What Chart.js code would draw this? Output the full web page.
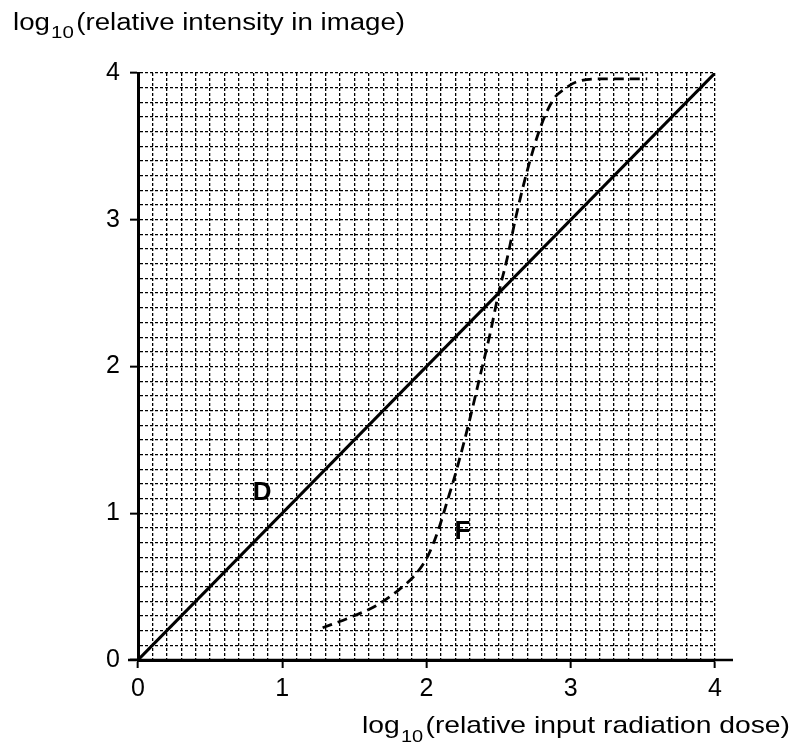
<!DOCTYPE html>
<html>
<head>
<meta charset="utf-8">
<script src="https://cdn.jsdelivr.net/npm/chart.js@4.4.1/dist/chart.umd.min.js"></script>
<style>
  body { margin: 0; background: #fff; }
  #wrap { width: 792px; height: 745px; }
</style>
</head>
<body>
<div id="wrap"><canvas id="grafico" width="792" height="745"></canvas></div>
<script>
// dados
const linhaDX = [0, 4];
const linhaDY = [0, 4];

const curvaFX = [1.28, 1.47, 1.65, 1.81, 1.93, 2.01, 2.08, 2.14, 2.21, 2.30, 2.37, 2.44, 2.50, 2.56, 2.62, 2.70, 2.79, 2.88, 2.97, 3.04, 3.20, 3.40, 3.53];
const curvaFY = [0.22, 0.29, 0.37, 0.48, 0.59, 0.71, 0.88, 1.07, 1.30, 1.64, 1.93, 2.22, 2.50, 2.74, 3.02, 3.34, 3.63, 3.82, 3.90, 3.94, 3.96, 3.96, 3.96];

const rotulos = ['D', 'F'];
const rotuloX = [0.86, 2.25];
const rotuloY = [1.14, 0.87];

const eixoMin = 0;
const eixoMax = 4;
const passoGrade = 0.1;

const FONTE = '"Liberation Sans", Arial, sans-serif';

function ehInteiro(v) {
    return Math.abs(v - Math.round(v)) < 1e-6;
}

function pontos(xs, ys) {
    return xs.map((x, i) => ({x: x, y: ys[i]}));
}

// desenha "log10(...)" com o 10 em subscrito, esticado até a largura pedida
function textoLog(ctx, resto, x, y, tam, largura) {
    const sub = Math.round(tam * 0.72);
    ctx.font = `${tam}px ${FONTE}`;
    const w1 = ctx.measureText('log').width;
    const w3 = ctx.measureText(resto).width;
    ctx.font = `${sub}px ${FONTE}`;
    const w2 = ctx.measureText('10').width;
    const total = w1 + w2 + w3 + 3;
    const k = largura / total;

    ctx.save();
    ctx.translate(x, y);
    ctx.scale(k, 1);
    ctx.font = `${tam}px ${FONTE}`;
    ctx.fillText('log', 0, 0);
    ctx.font = `${sub}px ${FONTE}`;
    ctx.fillText('10', w1 + 1, tam * 0.36);
    ctx.font = `${tam}px ${FONTE}`;
    ctx.fillText(resto, w1 + w2 + 3, 0);
    ctx.restore();
}

const extras = {
    id: 'extras',
    afterDraw(chart) {
        const ctx = chart.ctx;
        const sx = chart.scales.x;
        const sy = chart.scales.y;
        const area = chart.chartArea;
        ctx.save();

        // prolongamento do eixo x
        ctx.strokeStyle = '#000';
        ctx.lineWidth = 2.5;
        ctx.beginPath();
        ctx.moveTo(area.left - 10, area.bottom);
        ctx.lineTo(area.right + 18, area.bottom);
        ctx.stroke();

        // títulos dos eixos
        ctx.fillStyle = '#000';
        ctx.textAlign = 'left';
        ctx.textBaseline = 'alphabetic';
        textoLog(ctx, '(relative intensity in image)', 13, 30, 23, 392);
        textoLog(ctx, '(relative input radiation dose)', 362, 733, 24, 428);

        // rótulos das curvas
        ctx.font = `bold 26px ${FONTE}`;
        ctx.textAlign = 'center';
        ctx.textBaseline = 'middle';
        rotulos.forEach((r, i) => {
            ctx.fillText(r, sx.getPixelForValue(rotuloX[i]), sy.getPixelForValue(rotuloY[i]));
        });
        ctx.restore();
    }
};

function opcoesEixo(eixo) {
    return {
        type: 'linear',
        min: eixoMin,
        max: eixoMax,
        afterFit: eixo === 'x' ? (s) => { s.height = 45; } : (s) => { s.width = 138; },
        afterBuildTicks: (s) => {
            s.ticks = [];
            for (let i = 0; i <= 40; i++) s.ticks.push({value: +(i * passoGrade).toFixed(1)});
        },
        ticks: {
            autoSkip: false,
            maxRotation: 0,
            color: '#000',
            padding: eixo === 'x' ? 6 : 10,
            font: {family: FONTE, size: 25},
            callback: (v) => ehInteiro(v) ? String(Math.round(v)) : ''
        },
        grid: {
            color: '#000',
            lineWidth: 1.3,
            tickLength: 8,
            tickWidth: 2,
            tickColor: (c) => (c.tick && ehInteiro(c.tick.value)) ? '#000' : 'rgba(0,0,0,0)',
            tickBorderDash: []
        },
        border: {
            display: true,
            color: '#000',
            width: 3,
            dash: [3, 2]
        }
    };
}

document.addEventListener('DOMContentLoaded', () => {
    const ctx = document.getElementById('grafico').getContext('2d');

    new Chart(ctx, {
        type: 'line',
        data: {
            datasets: [
                {
                    label: 'D',
                    data: pontos(linhaDX, linhaDY),
                    borderColor: '#000',
                    borderWidth: 3,
                    pointRadius: 0,
                    tension: 0
                },
                {
                    label: 'F',
                    data: pontos(curvaFX, curvaFY),
                    borderColor: '#000',
                    borderWidth: 2.8,
                    borderDash: [10, 6],
                    pointRadius: 0,
                    cubicInterpolationMode: 'monotone'
                }
            ]
        },
        options: {
            responsive: false,
            animation: false,
            layout: {padding: {left: 0, right: 77, top: 73, bottom: 40}},
            plugins: {
                legend: {display: false},
                tooltip: {enabled: false}
            },
            scales: {x: opcoesEixo('x'), y: opcoesEixo('y')}
        },
        plugins: [extras]
    });
});
</script>
</body>
</html>
